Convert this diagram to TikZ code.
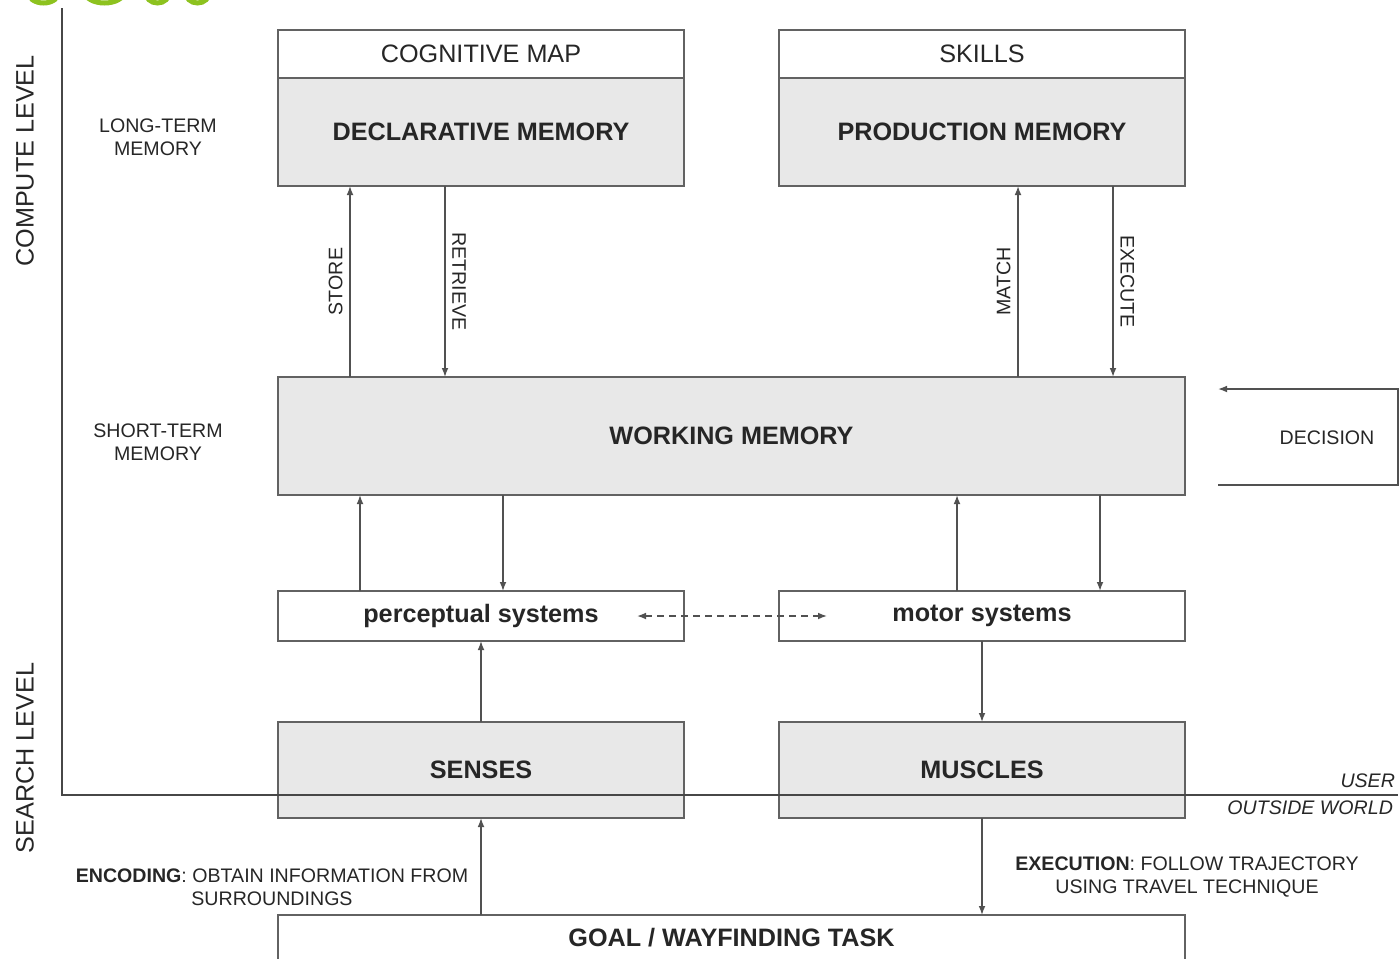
\documentclass[tikz,border=0pt]{standalone}
\usepackage{fontspec}
\setmainfont{Liberation Sans}
\usetikzlibrary{arrows,arrows.meta,positioning,calc}

\definecolor{boxfill}{HTML}{E8E8E8}
\definecolor{boxline}{HTML}{626262}
\definecolor{inkgray}{HTML}{262626}
\definecolor{logogreen}{HTML}{8DC21F}

\tikzset{
  mem/.style={draw=boxline, line width=1pt, fill=boxfill, inner sep=0pt, outer sep=0pt,
    minimum width=203pt, text=inkgray, font=\fontsize{12.6}{15}\selectfont\bfseries},
  head/.style={mem, fill=white, minimum height=24pt, font=\fontsize{12.6}{15}\selectfont},
  sys/.style={mem, fill=white, minimum height=25pt},
  small/.style={text=inkgray, align=center, font=\fontsize{9.8}{11.7}\selectfont},
  big/.style={text=inkgray, font=\fontsize{12.6}{15}\selectfont},
  arr/.style={-{Latex[length=4.5pt,width=3.4pt]}, draw=inkgray!80, line width=0.75pt},
  axis/.style={draw=inkgray!85, line width=1pt},
}

\begin{document}
\begin{tikzpicture}[x=0.5pt, y=-0.5pt]
\useasboundingbox (0,0) rectangle (1400,958);

% green rings cut by the top edge
\foreach \cx/\rx in {43.5/15.5, 104.5/19.5, 157.5/12, 197.5/12}
  \draw[logogreen, line width=2.5pt] (\cx,-8) ellipse [x radius=\rx, y radius=11];

% long-term memory
\node[head] (cogmap) at (481,54) {COGNITIVE MAP};
\node[mem, minimum height=54pt] (decl) at (481,132) {DECLARATIVE MEMORY};
\node[head] (skills) at (982,54) {SKILLS};
\node[mem, minimum height=54pt] (prod) at (982,132) {PRODUCTION MEMORY};

% short-term memory
\node[mem, minimum width=453.5pt, minimum height=59pt] (wm) at (731.5,436) {WORKING MEMORY};

\node[sys] (perc) at (481,616) {perceptual systems};
\node[sys] (motor) at (982,616) {motor systems};

\node[mem, minimum height=48pt] (senses) at (481,770) {SENSES};
\node[mem, minimum height=48pt] (muscles) at (982,770) {MUSCLES};

\node[mem, fill=white, minimum width=453.5pt, minimum height=23pt] (goal) at (731.5,938) {GOAL / WAYFINDING TASK};

% side labels
\node[big, rotate=90] (compute) at (25,161) {COMPUTE LEVEL};
\node[big, rotate=90] (search) at (25,758) {SEARCH LEVEL};
\node[small] (longterm) at (158,137) {LONG-TERM\\MEMORY};
\node[small] (shortterm) at (158,442) {SHORT-TERM\\MEMORY};

% levels
\coordinate (axtop) at (62,8);
\coordinate (axcorner) at (62,795);
\coordinate (axend) at (1398,795);
\draw[axis] (axtop) -- (axcorner) -- (axend);
\node[small, font=\fontsize{9.8}{11.7}\selectfont\itshape, anchor=east] (user) at (1402,781) {USER};
\node[small, font=\fontsize{9.8}{11.7}\selectfont\itshape, anchor=east] (world) at (1400,808) {OUTSIDE WORLD};

% memory links
\draw[arr] (wm.north -| 350,0) -- (decl.south -| 350,0)
  node[small, midway, rotate=90, anchor=south] (store) {STORE};
\draw[arr] (decl.south -| 445,0) -- (wm.north -| 445,0)
  node[small, midway, rotate=-90, anchor=south] (retrieve) {RETRIEVE};
\draw[arr] (wm.north -| 1018,0) -- (prod.south -| 1018,0)
  node[small, midway, rotate=90, anchor=south] (match) {MATCH};
\draw[arr] (prod.south -| 1113,0) -- (wm.north -| 1113,0)
  node[small, midway, rotate=-90, anchor=south] (execute) {EXECUTE};

\draw[arr] (perc.north -| 360,0) -- (wm.south -| 360,0);
\draw[arr] (wm.south -| 503,0) -- (perc.north -| 503,0);
\draw[arr] (motor.north -| 957,0) -- (wm.south -| 957,0);
\draw[arr] (wm.south -| 1100,0) -- (motor.north -| 1100,0);

\draw[arr, {Latex[length=4.5pt,width=3.4pt]}-{Latex[length=4.5pt,width=3.4pt]}, dash pattern=on 3.5pt off 2.5pt]
  ($(perc.east)+(-47,0)$) -- ($(motor.west)+(48,0)$);

\draw[arr] (senses.north) -- (perc.south);
\draw[arr] (motor.south) -- (muscles.north);
\draw[arr] (goal.north -| senses.south) -- (senses.south);
\draw[arr] (muscles.south) -- (goal.north -| muscles.south);

% decision loop
\coordinate (decout) at (1218,485);
\coordinate (decturn) at (1398,389);
\coordinate (decin) at (1218,389);
\draw[arr] (decout) -| (decturn) -- (decin);
\node[small] (decision) at (1327,438) {DECISION};

\node[small] (encoding) at (272,887) {\textbf{ENCODING}: OBTAIN INFORMATION FROM\\SURROUNDINGS};
\node[small] (execution) at (1187,877) {\textbf{EXECUTION}: FOLLOW TRAJECTORY\\USING TRAVEL TECHNIQUE};
\end{tikzpicture}
\end{document}
